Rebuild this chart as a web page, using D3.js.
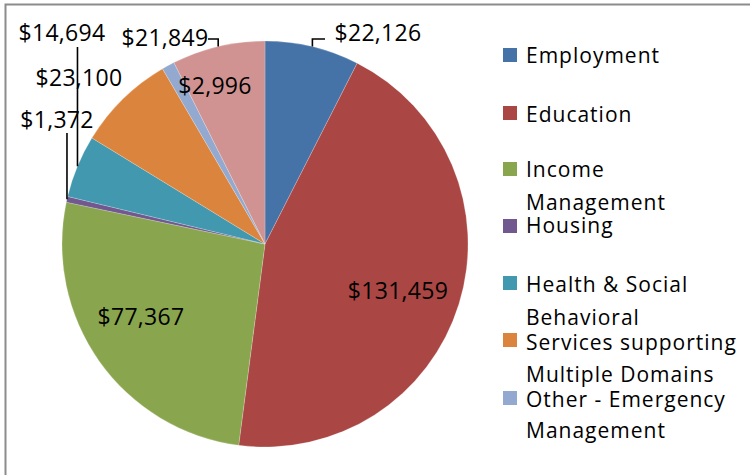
<!DOCTYPE html>
<html><head><meta charset="utf-8">
<script src="https://cdn.jsdelivr.net/npm/d3@7"></script>
<style>body{margin:0;background:#fff}svg{display:block}</style>
</head><body>
<svg id="c" width="750" height="475"></svg>
<script>
// ---- data ----
const categories = ["Employment","Education","Income Management","Housing","Health & Social","Behavioral Services supporting Multiple Domains","Other - Emergency Management","Other"];
const values = [22126,131459,77367,1372,14694,23100,2996,21849];
const colors = ["#4572A7","#AA4643","#89A54E","#71588F","#4198AF","#DB843D","#93A9CF","#D19392"];
// legend text as wrapped in the reference (last category is cut off there)
const legendLines = [["Employment"],["Education"],["Income","Management"],["Housing"],["Health & Social"],["Behavioral","Services supporting","Multiple Domains"],["Other - Emergency","Management"]];

// ---- layout ----
const W=750,H=475, cx=265, cy=244, R=203;
const font = "'Open Sans', sans-serif";
const svg = d3.select("#c");
svg.append("rect").attr("x",0).attr("y",0).attr("width",W).attr("height",H).attr("fill","#fff");
// clipped frame (only top and left edge visible)
svg.append("path").attr("d","M5.5,475 V4.5 H750").attr("fill","none").attr("stroke","#8c8c8c").attr("stroke-width",2);

const pie = d3.pie().sort(null).value(d=>d);
const arcs = pie(values);
const arc = d3.arc().innerRadius(0).outerRadius(R);
const g = svg.append("g").attr("transform",`translate(${cx},${cy})`);
g.selectAll("path.s").data(arcs).join("path").attr("class","s")
  .attr("d",arc).attr("fill",(d,i)=>colors[i]).attr("stroke","#ffffff").attr("stroke-opacity",0.35).attr("stroke-width",0.6);

const fmt = d3.format("$,");
// label placement relative to pie centre: [dx, baseline dy], anchor middle
const labelPos = [[113,-203],[133,55],[-124,81],[-208,-116],[-203,-203],[-186,-158],[-50,-150],[-100,-198.5]];
// leader lines: elbow y (relative) and end x (relative); null = none
const leaders = [{type:"elbow",y:-205,x:60},null,null,{type:"vert",y:-111},{type:"vert",y:-197},null,null,{type:"elbow",y:-205,x:-57}];

const outer = d => { const a=(d.startAngle+d.endAngle)/2; return [R*Math.sin(a), -R*Math.cos(a)]; };
arcs.forEach((d,i)=>{
  const L = leaders[i]; if(!L) return;
  const [px,py] = outer(d);
  let pts;
  if(L.type==="elbow") pts=[[px,py],[px,L.y],[L.x,L.y]];
  else pts=[[px,py],[px,L.y]];
  g.append("path").attr("d",d3.line()(pts)).attr("fill","none").attr("stroke","#000").attr("stroke-width",1.6);
});
g.selectAll("text.v").data(arcs).join("text").attr("class","v")
  .attr("x",(d,i)=>labelPos[i][0]).attr("y",(d,i)=>labelPos[i][1])
  .attr("text-anchor","middle").attr("font-family",font).attr("font-size",23).attr("letter-spacing",0.3)
  .attr("fill","#000").text(d=>fmt(d.value));

// ---- legend ----
const legendSquareY=[48,106,162,219,276,333,391];
const legendLineY=[[63],[122],[177,210],[233],[292],[325,350,382],[407,438]];
const lg = svg.append("g");
legendLines.forEach((lines,i)=>{
  lg.append("rect").attr("x",503).attr("y",legendSquareY[i]).attr("width",14).attr("height",14).attr("fill",colors[i]);
  lines.forEach((t,j)=>{
    lg.append("text").attr("x",526).attr("y",legendLineY[i][j]).attr("font-family",font).attr("font-size",21)
      .attr("letter-spacing",1.0).attr("fill","#000").text(t);
  });
});
</script>
</body></html>
